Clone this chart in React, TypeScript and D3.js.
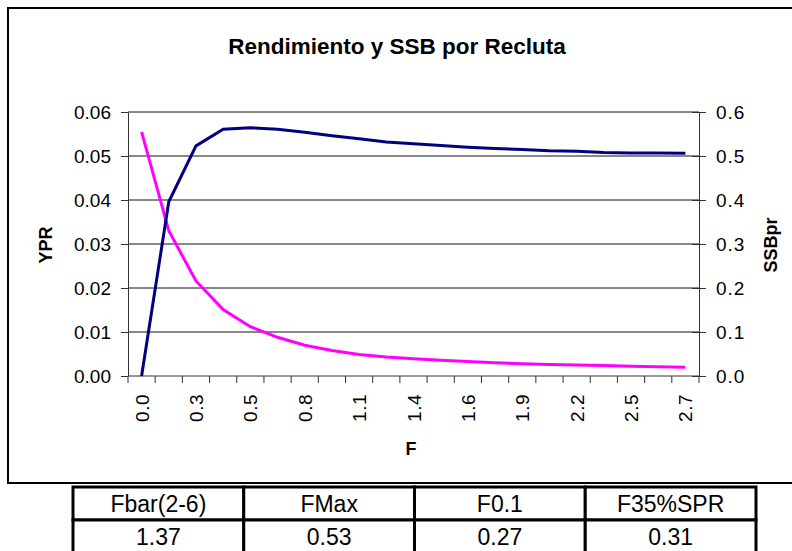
import { useEffect, useRef } from "react"
import * as d3 from "d3"

// F values (Fbar 1.37 times 0.0 .. 2.0 in steps of 0.1)
const fValues = [
  0.0, 0.137, 0.274, 0.411, 0.548, 0.685, 0.822, 0.959, 1.096, 1.233, 1.37,
  1.507, 1.644, 1.781, 1.918, 2.055, 2.192, 2.329, 2.466, 2.603, 2.74,
]
const ypr = [
  0.0, 0.0396, 0.0523, 0.0561, 0.0564, 0.0561, 0.0554, 0.0546, 0.0539, 0.0532,
  0.0528, 0.0524, 0.052, 0.0517, 0.0515, 0.0512, 0.0511, 0.0508, 0.0507,
  0.0507, 0.0506,
]
const ssbpr = [
  0.555, 0.33, 0.216, 0.151, 0.112, 0.088, 0.07, 0.058, 0.049, 0.043, 0.039,
  0.036, 0.033, 0.03, 0.028, 0.026, 0.025, 0.024, 0.022, 0.021, 0.02,
]
const yprTicks = [0, 0.01, 0.02, 0.03, 0.04, 0.05, 0.06]
const ssbTicks = [0, 0.1, 0.2, 0.3, 0.4, 0.5, 0.6]

const tableHeaders = ["Fbar(2-6)", "FMax", "F0.1", "F35%SPR"]
const tableValues = ["1.37", "0.53", "0.27", "0.31"]

const font = "Arial, 'Liberation Sans', sans-serif"

const App = () => {
  const ref = useRef<SVGSVGElement>(null)

  useEffect(() => {
    const svg = d3.select(ref.current)
    svg.selectAll("*").remove()

    const left = 128
    const right = 699
    const top = 112
    const bottom = 376

    // outer chart frame
    svg
      .append("rect")
      .attr("x", 8)
      .attr("y", 8)
      .attr("width", 800)
      .attr("height", 475)
      .attr("fill", "white")
      .attr("stroke", "black")
      .attr("stroke-width", 2)

    svg
      .append("text")
      .text("Rendimiento y SSB por Recluta")
      .attr("x", 397)
      .attr("y", 54)
      .attr("text-anchor", "middle")
      .attr("font-family", font)
      .attr("font-weight", "bold")
      .attr("font-size", "22.5px")

    const x = d3
      .scaleBand()
      .domain(fValues.map((d) => String(d)))
      .range([left, right])
    const yL = d3.scaleLinear().domain([0, 0.06]).range([bottom, top])
    const yR = d3.scaleLinear().domain([0, 0.6]).range([bottom, top])

    // gridlines
    svg
      .append("g")
      .selectAll("line")
      .data(yprTicks.slice(1))
      .enter()
      .append("line")
      .attr("x1", left)
      .attr("x2", right)
      .attr("y1", (d) => yL(d))
      .attr("y2", (d) => yL(d))
      .attr("stroke", "#111")
      .attr("stroke-width", 1)

    // left axis
    const gL = svg
      .append("g")
      .attr("transform", "translate(" + left + ",0)")
      .call(
        d3
          .axisLeft(yL)
          .tickValues(yprTicks)
          .tickFormat((d) => d3.format(".2f")(d as number))
          .tickSize(7)
          .tickSizeOuter(0)
          .tickPadding(10)
      )
    gL.selectAll("text")
      .attr("font-family", font)
      .attr("font-size", "19px")
      .attr("fill", "black")
    gL.selectAll("line,path").attr("stroke", "#333")

    // right axis, ticks crossing
    const gR = svg
      .append("g")
      .attr("transform", "translate(" + right + ",0)")
      .call(
        d3
          .axisRight(yR)
          .tickValues(ssbTicks)
          .tickFormat((d) => d3.format(".1f")(d as number))
          .tickSize(7)
          .tickSizeOuter(0)
          .tickPadding(10)
      )
    gR.selectAll(".tick line").attr("x1", -7)
    gR.selectAll("text")
      .attr("font-family", font)
      .attr("font-size", "19px")
      .attr("letter-spacing", "1px")
      .attr("fill", "black")
    gR.selectAll("line,path").attr("stroke", "#333")

    // x axis: ticks at band edges
    const gX = svg.append("g")
    gX.append("line")
      .attr("x1", left)
      .attr("x2", right)
      .attr("y1", bottom)
      .attr("y2", bottom)
      .attr("stroke", "#333")
    gX.selectAll(".tk")
      .data(fValues.concat([NaN]))
      .enter()
      .append("line")
      .attr("x1", (d, i) => left + i * x.bandwidth())
      .attr("x2", (d, i) => left + i * x.bandwidth())
      .attr("y1", bottom)
      .attr("y2", bottom + 7)
      .attr("stroke", "#333")
    gX.selectAll(".lbl")
      .data(fValues.filter((d, i) => i % 2 === 0))
      .enter()
      .append("text")
      .text((d) => d.toFixed(1))
      .attr("transform", (d) => {
        const cx = (x(String(d)) as number) + x.bandwidth() / 2
        return "translate(" + (cx + 7) + "," + (bottom + 18) + ")rotate(-90)"
      })
      .attr("text-anchor", "end")
      .attr("font-family", font)
      .attr("font-size", "19px")
      .attr("letter-spacing", "0.5px")

    // axis titles
    svg
      .append("text")
      .text("F")
      .attr("x", 411)
      .attr("y", 455)
      .attr("text-anchor", "middle")
      .attr("font-family", font)
      .attr("font-weight", "bold")
      .attr("font-size", "18px")
    svg
      .append("text")
      .text("YPR")
      .attr("transform", "translate(52,245)rotate(-90)")
      .attr("text-anchor", "middle")
      .attr("font-family", font)
      .attr("font-weight", "bold")
      .attr("font-size", "18px")
    svg
      .append("text")
      .text("SSBpr")
      .attr("transform", "translate(777,245)rotate(-90)")
      .attr("text-anchor", "middle")
      .attr("font-family", font)
      .attr("font-weight", "bold")
      .attr("font-size", "18px")

    const cx = (i: number) => (x(String(fValues[i])) as number) + x.bandwidth() / 2

    const lineL = d3
      .line<number>()
      .x((d, i) => cx(i))
      .y((d) => yL(d))
    const lineR = d3
      .line<number>()
      .x((d, i) => cx(i))
      .y((d) => yR(d))

    svg
      .append("path")
      .datum(ssbpr)
      .attr("d", lineR)
      .attr("fill", "none")
      .attr("stroke", "#ff00ff")
      .attr("stroke-width", 3)
    svg
      .append("path")
      .datum(ypr)
      .attr("d", lineL)
      .attr("fill", "none")
      .attr("stroke", "#000080")
      .attr("stroke-width", 3)

    // table below chart
    const tx = d3
      .scaleBand()
      .domain(tableHeaders)
      .range([73, 756])
    const rows = [tableHeaders, tableValues]
    const rowTop = [487, 520]
    const rowH = 33
    rows.forEach((row, r) => {
      row.forEach((cell, c) => {
        const x0 = tx(tableHeaders[c]) as number
        svg
          .append("rect")
          .attr("x", x0)
          .attr("y", rowTop[r])
          .attr("width", tx.bandwidth())
          .attr("height", rowH)
          .attr("fill", "white")
          .attr("stroke", "black")
          .attr("stroke-width", 3)
        svg
          .append("text")
          .text(cell)
          .attr("x", x0 + tx.bandwidth() / 2)
          .attr("y", rowTop[r] + 25)
          .attr("text-anchor", "middle")
          .attr("font-family", font)
          .attr("font-size", "23px")
      })
    })
  }, [])

  return (
    <svg
      ref={ref}
      width={792}
      height={551}
      style={{ position: "absolute", left: 0, top: 0, background: "white" }}
    />
  )
}

export default App
